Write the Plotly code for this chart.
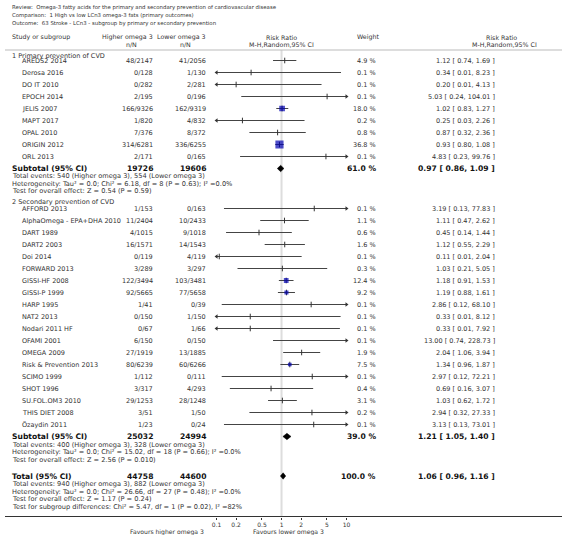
import plotly.graph_objects as go

W, H = 566, 535

# ---------------- data ----------------
title_lines = [
    "Review:  Omega-3 fatty acids for the primary and secondary prevention of cardiovascular disease",
    "Comparison:  1 High vs low LCn3 omega-3 fats (primary outcomes)",
    "Outcome:  63 Stroke - LCn3 - subgroup by primary or secondary prevention",
]

sec1_title = "1 Primary prevention of CVD"
studies1 = ["AREDS2 2014", "Derosa 2016", "DO IT 2010", "EPOCH 2014", "JELIS 2007",
            "MAPT 2017", "OPAL 2010", "ORIGIN 2012", "ORL 2013"]
higher1 = ["48/2147", "0/128", "0/282", "2/195", "166/9326", "1/820", "7/376", "314/6281", "2/171"]
lower1 = ["41/2056", "1/130", "2/281", "0/196", "162/9319", "4/832", "8/372", "336/6255", "0/165"]
weight1 = [4.9, 0.1, 0.1, 0.1, 18.0, 0.2, 0.8, 36.8, 0.1]
rr1 = [1.12, 0.34, 0.20, 5.03, 1.02, 0.25, 0.87, 0.93, 4.83]
lo1 = [0.74, 0.01, 0.01, 0.24, 0.83, 0.03, 0.32, 0.80, 0.23]
hi1 = [1.69, 8.23, 4.13, 104.01, 1.27, 2.26, 2.36, 1.08, 99.76]
sub1 = dict(nh="19726", nl="19606", w=61.0, rr=0.97, lo=0.86, hi=1.09)
notes1 = [
    "Total events: 540 (Higher omega 3), 554 (Lower omega 3)",
    "Heterogeneity: Tau\u00b2 = 0.0; Chi\u00b2 = 6.18, df = 8 (P = 0.63); I\u00b2 =0.0%",
    "Test for overall effect: Z = 0.54 (P = 0.59)",
]

sec2_title = "2 Secondary prevention of CVD"
studies2 = ["AFFORD 2013", "AlphaOmega - EPA+DHA 2010", "DART 1989", "DART2 2003", "Doi 2014",
            "FORWARD 2013", "GISSI-HF 2008", "GISSI-P 1999", "HARP 1995", "NAT2 2013",
            "Nodari 2011 HF", "OFAMI 2001", "OMEGA 2009", "Risk & Prevention 2013", "SCIMO 1999",
            "SHOT 1996", "SU.FOL.OM3 2010", "THIS DIET 2008", "\u00d6zaydin 2011"]
higher2 = ["1/153", "11/2404", "4/1015", "16/1571", "0/119", "3/289", "122/3494", "92/5665", "1/41",
           "0/150", "0/67", "6/150", "27/1919", "80/6239", "1/112", "3/317", "29/1253", "3/51", "1/23"]
lower2 = ["0/163", "10/2433", "9/1018", "14/1543", "4/119", "3/297", "103/3481", "77/5658", "0/39",
          "1/150", "1/66", "0/150", "13/1885", "60/6266", "0/111", "4/293", "28/1248", "1/50", "0/24"]
weight2 = [0.1, 1.1, 0.6, 1.6, 0.1, 0.3, 12.4, 9.2, 0.1, 0.1, 0.1, 0.1, 1.9, 7.5, 0.1, 0.4, 3.1, 0.2, 0.1]
rr2 = [3.19, 1.11, 0.45, 1.12, 0.11, 1.03, 1.18, 1.19, 2.86, 0.33, 0.33, 13.00, 2.04, 1.34, 2.97,
       0.69, 1.03, 2.94, 3.13]
lo2 = [0.13, 0.47, 0.14, 0.55, 0.01, 0.21, 0.91, 0.88, 0.12, 0.01, 0.01, 0.74, 1.06, 0.96, 0.12,
       0.16, 0.62, 0.32, 0.13]
hi2 = [77.83, 2.62, 1.44, 2.29, 2.04, 5.05, 1.53, 1.61, 68.10, 8.12, 7.92, 228.73, 3.94, 1.87, 72.21,
       3.07, 1.72, 27.33, 73.01]
sub2 = dict(nh="25032", nl="24994", w=39.0, rr=1.21, lo=1.05, hi=1.40)
notes2 = [
    "Total events: 400 (Higher omega 3), 328 (Lower omega 3)",
    "Heterogeneity: Tau\u00b2 = 0.0; Chi\u00b2 = 15.02, df = 18 (P = 0.66); I\u00b2 =0.0%",
    "Test for overall effect: Z = 2.56 (P = 0.010)",
]

total = dict(nh="44758", nl="44600", w=100.0, rr=1.06, lo=0.96, hi=1.16)
notes_total = [
    "Total events: 940 (Higher omega 3), 882 (Lower omega 3)",
    "Heterogeneity: Tau\u00b2 = 0.0; Chi\u00b2 = 26.66, df = 27 (P = 0.48); I\u00b2 =0.0%",
    "Test for overall effect: Z = 1.17 (P = 0.24)",
    "Test for subgroup differences: Chi\u00b2 = 5.47, df = 1 (P = 0.02), I\u00b2 =82%",
]

tick_vals = [0.1, 0.2, 0.5, 1, 2, 5, 10]
tick_text = ["0.1", "0.2", "0.5", "1", "2", "5", "10"]
fav_left = "Favours higher omega 3"
fav_right = "Favours lower omega 3"

# ---------------- layout constants (pixels) ----------------
FONT = "DejaVu Sans"
TXT = "#333333"
X_MIN, X_MAX = 0.1, 10
PLOT_L, PLOT_R = 215, 347
AXIS_Y = 516.5
STEP = 12.0

X_NAME_SEC = 5
X_NAME = 15
X_HIGH = 152
X_LOW = 206
X_WEIGHT = 379
X_CI = 500

TITLE = 5.4
BODY = 6.5
HEAD = 6.3
NOTE = 6.6
BOLD = 7.6

annotations = []


def txt(x, y, s, anchor="left", size=BODY, bold=False, color=TXT):
    annotations.append(dict(
        x=x / W, y=y, xref="paper", yref="y", text=("<b>%s</b>" % s) if bold else s,
        showarrow=False, xanchor=anchor, yanchor="middle",
        font=dict(family=FONT, size=size, color=color)))


def fmt_ci(rr, lo, hi):
    return "%.2f [ %.2f, %.2f ]" % (rr, lo, hi)


# title lines
for i, s in enumerate(title_lines):
    txt(5, 7 + 8.2 * i, s, size=TITLE)

# header
txt(X_NAME_SEC, 37, "Study or subgroup", size=HEAD)
txt(124, 37, "Higher omega 3", "center", HEAD)
txt(129, 44, "n/N", "center", HEAD)
txt(179, 37, "Lower omega 3", "center", HEAD)
txt(183, 44, "n/N", "center", HEAD)
txt(281, 37, "Risk Ratio", "center", HEAD)
txt(281, 44, "M-H,Random,95% CI", "center", HEAD)
txt(369, 37, "Weight", "center", HEAD)
txt(505, 37, "Risk Ratio", "center", HEAD)
txt(508, 44, "M-H,Random,95% CI", "center", HEAD)

ci_x, ci_y = [], []
tick_x, tick_y = [], []
sq_x, sq_y, sq_s = [], [], []
arl_x, arl_y, arr_x, arr_y = [], [], [], []
diamonds = []


def study_rows(y0, names, hn, ln, ws, rrs, los, his):
    for i, name in enumerate(names):
        y = y0 + STEP * i
        txt(X_NAME, y, name)
        txt(X_HIGH, y, hn[i], "right")
        txt(X_LOW, y, ln[i], "right")
        txt(X_WEIGHT, y, "%.1f %%" % ws[i], "right")
        txt(X_CI, y, fmt_ci(rrs[i], los[i], his[i]), "right")
        a = max(los[i], X_MIN)
        b = min(his[i], X_MAX)
        ci_x.extend([a, b, None])
        ci_y.extend([y, y, None])
        if los[i] < X_MIN:
            arl_x.append(X_MIN)
            arl_y.append(y)
        if his[i] > X_MAX:
            arr_x.append(X_MAX)
            arr_y.append(y)
        if X_MIN <= rrs[i] <= X_MAX:
            tick_x.append(rrs[i])
            tick_y.append(y)
            s = 1.35 * ws[i] ** 0.5
            if s >= 3.4:
                sq_x.append(rrs[i])
                sq_y.append(y)
                sq_s.append(s)
    return y0 + STEP * len(names)


def summary_row(y, label, d):
    txt(X_NAME_SEC, y, label, size=BOLD, bold=True, color="#111")
    txt(X_HIGH, y, d["nh"], "right", BOLD, True, "#111")
    txt(X_LOW, y, d["nl"], "right", BOLD, True, "#111")
    txt(X_WEIGHT, y, "%.1f %%" % d["w"], "right", BOLD, True, "#111")
    txt(X_CI, y, fmt_ci(d["rr"], d["lo"], d["hi"]), "right", BOLD, True, "#111")
    diamonds.append((d, y))


def notes(y0, lines, step=7.5):
    for i, s in enumerate(lines):
        txt(X_NAME_SEC, y0 + step * i, s, size=NOTE)


# section 1
txt(X_NAME_SEC, 55.5, sec1_title)
ysub = study_rows(60.5, studies1, higher1, lower1, weight1, rr1, lo1, hi1)
summary_row(ysub, "Subtotal (95% CI)", sub1)
notes(ysub + 7.5, notes1)

# section 2
txt(X_NAME_SEC, 201.5, sec2_title)
ysub2 = study_rows(208.5, studies2, higher2, lower2, weight2, rr2, lo2, hi2)
summary_row(ysub2, "Subtotal (95% CI)", sub2)
notes(ysub2 + 8, notes2)

# total
summary_row(476, "Total (95% CI)", total)
notes(484, notes_total)

# favours labels
txt(204, 532, fav_left, "right", 6.1)
txt(250, 532, fav_right, "left", 6.1)

fig = go.Figure()

fig.add_trace(go.Scatter(x=ci_x, y=ci_y, mode="lines", line=dict(color="#444444", width=1),
                         hoverinfo="skip", showlegend=False))
fig.add_trace(go.Scatter(x=tick_x, y=tick_y, mode="markers",
                         marker=dict(symbol="line-ns", size=4, color="#333333",
                                     line=dict(color="#333333", width=1)),
                         hoverinfo="skip", showlegend=False))
fig.add_trace(go.Scatter(x=sq_x, y=sq_y, mode="markers",
                         marker=dict(symbol="square", size=sq_s, color="#0000b0", line=dict(width=0)),
                         hoverinfo="skip", showlegend=False))
fig.add_trace(go.Scatter(x=arl_x, y=arl_y, mode="markers", cliponaxis=False,
                         marker=dict(symbol="triangle-left", size=4, color="#333333"),
                         hoverinfo="skip", showlegend=False))
fig.add_trace(go.Scatter(x=arr_x, y=arr_y, mode="markers", cliponaxis=False,
                         marker=dict(symbol="triangle-right", size=4, color="#333333"),
                         hoverinfo="skip", showlegend=False))
for d, y in diamonds:
    fig.add_trace(go.Scatter(x=[d["lo"], d["rr"], d["hi"], d["rr"], d["lo"]],
                             y=[y, y - 3.2, y, y + 3.2, y], mode="lines", fill="toself",
                             fillcolor="#000000", line=dict(color="#000000", width=0.5),
                             hoverinfo="skip", showlegend=False))

shapes = [
    # reference line at RR = 1
    dict(type="line", xref="x", yref="y", x0=1, x1=1, y0=50, y1=AXIS_Y,
         line=dict(color="#dddddd", width=2), layer="below"),
    # header rule
    dict(type="line", xref="paper", yref="y", x0=0, x1=1, y0=50, y1=50,
         line=dict(color="#bbbbbb", width=1)),
    # axis line
    dict(type="line", xref="paper", yref="y", x0=0, x1=1, y0=AXIS_Y, y1=AXIS_Y,
         line=dict(color="#333333", width=1)),
]

fig.update_layout(
    width=W, height=H, margin=dict(l=0, r=0, t=0, b=0),
    paper_bgcolor="white", plot_bgcolor="white",
    showlegend=False, annotations=annotations, shapes=shapes,
    xaxis=dict(type="log", range=[-1, 1], domain=[PLOT_L / W, PLOT_R / W],
               anchor="free", position=1 - AXIS_Y / H,
               showgrid=False, zeroline=False, showline=False,
               tickvals=tick_vals, ticktext=tick_text, ticks="outside", ticklen=2,
               tickcolor="#333333", tickfont=dict(family=FONT, size=6.0, color=TXT)),
    yaxis=dict(range=[H, 0], domain=[0, 1], visible=False, showgrid=False, zeroline=False),
)

fig.write_html("out.html", config={"displayModeBar": False},
               post_script="document.body.style.margin='0';document.body.style.overflow='hidden';")
